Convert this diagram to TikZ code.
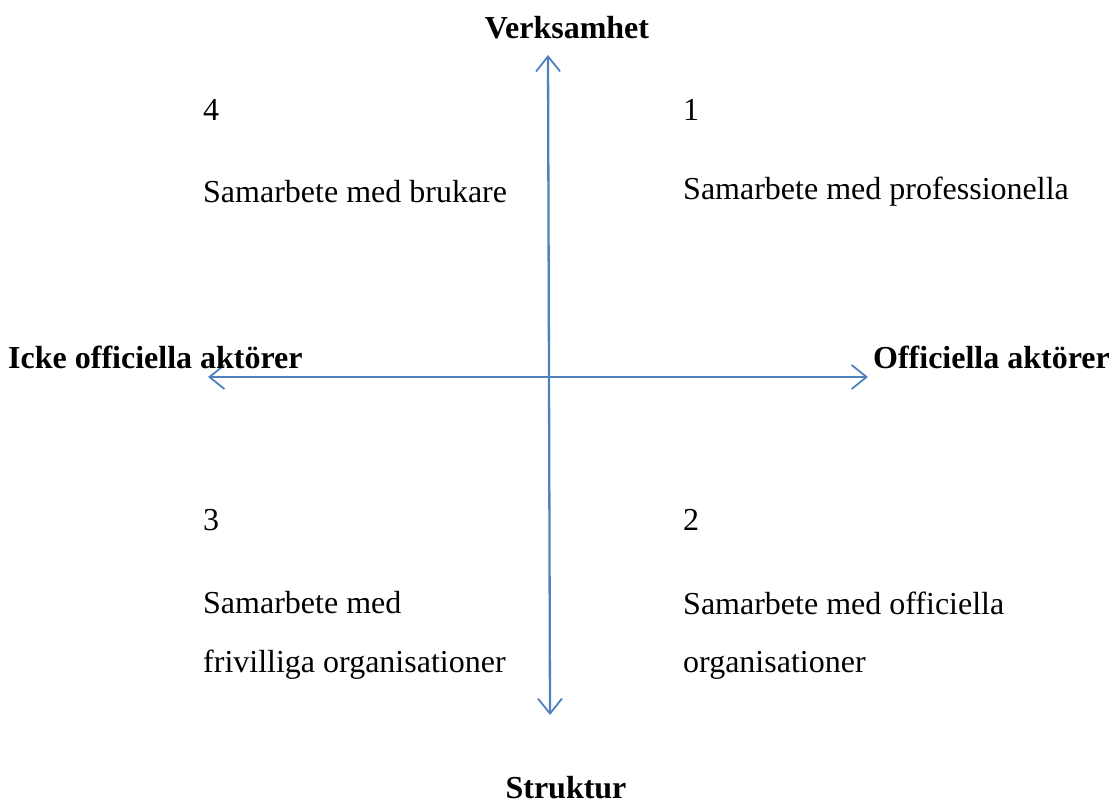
\documentclass[tikz,border=0pt]{standalone}
\usepackage{fontspec}
\setmainfont{Liberation Serif}
\usetikzlibrary{arrows.meta}
\definecolor{axisblue}{HTML}{4F81BD}
\begin{document}
\begin{tikzpicture}[x=1pt,y=-1pt,
  axis/.style={draw=axisblue,line width=2.3pt,-{Straight Barb[length=15pt,width=24pt,line width=1.8pt]}},
  lbl/.style={anchor=west,inner sep=0pt,font=\fontsize{32}{38}\selectfont},
  blbl/.style={inner sep=0pt,font=\fontsize{32}{38}\selectfont\bfseries}]
\useasboundingbox (0,0) rectangle (1115,805);
\coordinate (c) at (549,377);
\coordinate (top) at (548,55);
\coordinate (bot) at (550,715);
\coordinate (left) at (208,377);
\coordinate (right) at (868,377);
\draw[axis] (c) -- (top);
\draw[axis] (c) -- (bot);
\draw[axis] (c) -- (left);
\draw[axis] (c) -- (right);
\node[blbl] (verk) at (567,28) {Verksamhet};
\node[blbl] (struk) at (566,788) {Struktur};
\node[blbl,anchor=west] (icke) at (8,357) {Icke officiella aktörer};
\node[blbl,anchor=east] (off) at (1110,357) {Officiella aktörer};
\node[lbl] (n4) at (203,110) {4};
\node[lbl] (t4) at (203,192) {Samarbete med brukare};
\node[lbl] (n1) at (683,110) {1};
\node[lbl] (t1) at (683,192) {Samarbete med professionella};
\node[lbl] (n3) at (203,520) {3};
\node[lbl] (t3a) at (203,603) {Samarbete med};
\node[lbl] (t3b) at (203,665) {frivilliga organisationer};
\node[lbl] (n2) at (683,520) {2};
\node[lbl] (t2a) at (683,603) {Samarbete med officiella};
\node[lbl] (t2b) at (683,665) {organisationer};
\end{tikzpicture}
\end{document}
